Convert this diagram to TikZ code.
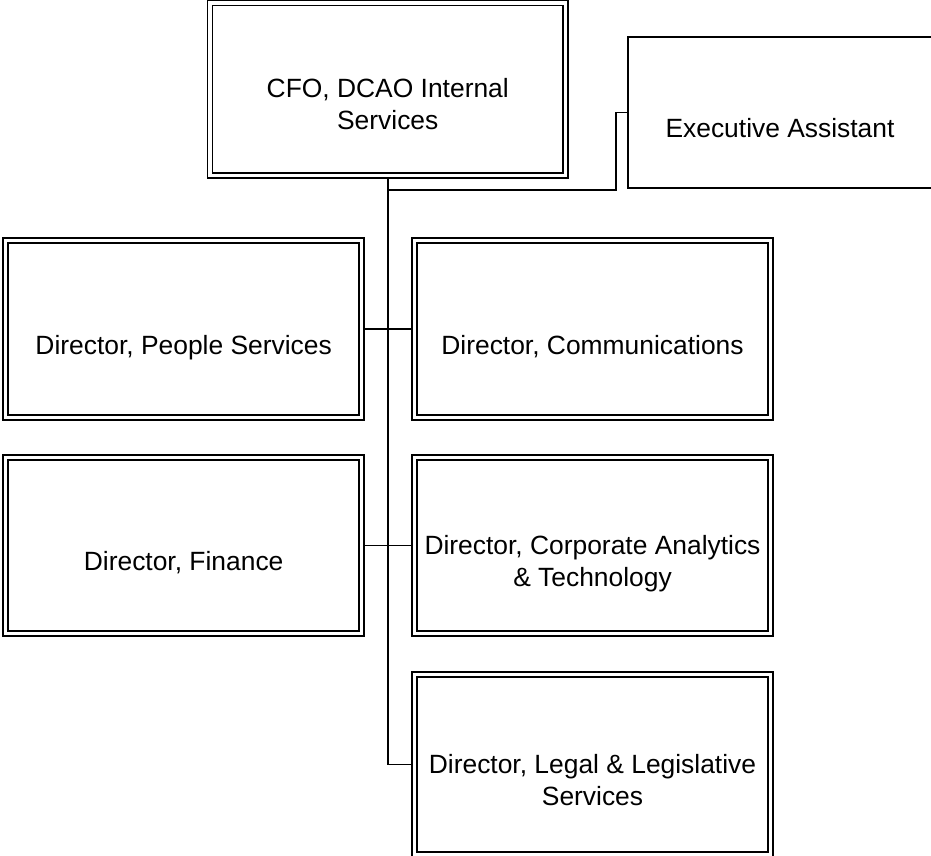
\documentclass[tikz,border=0pt]{standalone}
\usepackage{fontspec}
\setmainfont{Liberation Sans}
\begin{document}
\begin{tikzpicture}[x=1pt,y=1pt,
  dbox/.style={draw=black, line width=1.6pt, double=white, double distance=3.4pt,
    rectangle, inner sep=0pt, outer sep=3.3pt, minimum width=356pt},
  sbox/.style={draw=black, line width=1.9pt, rectangle, inner sep=0pt, outer sep=0.95pt},
  lbl/.style={font=\fontsize{26.4}{32}\selectfont, align=center, anchor=base, inner sep=0pt},
  conn/.style={draw=black, line width=1.9pt}]
\clip (0,0) rectangle (931,-856);
\fill[white] (0,0) rectangle (931,-856);
% boxes
\node[dbox, minimum width=355.5pt, minimum height=172.5pt] (cfo) at (387.75,-89.25) {};
\node[sbox, minimum width=304pt, minimum height=151pt] (ea) at (780,-112.5) {};
\node[dbox, minimum height=177pt] (ps) at (183.65,-329) {};
\node[dbox, minimum height=177pt] (com) at (592.5,-329) {};
\node[dbox, minimum height=176pt] (fin) at (183.65,-545.5) {};
\node[dbox, minimum height=176pt] (cat) at (592.5,-545.5) {};
\node[dbox, minimum height=180pt] (leg) at (592.5,-764.5) {};
% texts
\node[lbl] (tcfo) at ([yshift=-40pt]cfo.center) {CFO, DCAO Internal\\Services};
\node[lbl] (tea) at ([yshift=-25pt]ea.center) {Executive Assistant};
\node[lbl] (tps) at ([yshift=-25pt]ps.center) {Director, People Services};
\node[lbl] (tcom) at ([yshift=-25pt]com.center) {Director, Communications};
\node[lbl] (tfin) at ([yshift=-25pt]fin.center) {Director, Finance};
\node[lbl] (tcat) at ([yshift=-41pt]cat.center) {Director, Corporate Analytics\\\& Technology};
\node[lbl] (tleg) at ([yshift=-41pt]leg.center) {Director, Legal \& Legislative\\Services};
% connectors
\coordinate (j) at (387.75,-190);
\coordinate (ek) at (616,-112.5);
\draw[conn] (cfo.south) -- (cfo.south |- leg.west) -- (leg.west);
\draw[conn] (j) -| (ek) -- (ea.west);
\draw[conn] (ps.east) -- (com.west);
\draw[conn] (fin.east) -- (cat.west);
\end{tikzpicture}
\end{document}
